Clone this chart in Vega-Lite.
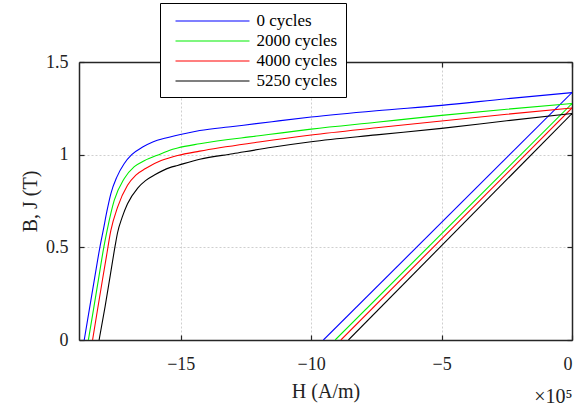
{
  "$schema": "https://vega.github.io/schema/vega-lite/v6.json",
  "width": 493,
  "height": 278,
  "autosize": {"type": "none"},
  "padding": {"left": 79, "top": 62, "right": 13, "bottom": 67},
  "background": "white",
  "title": {"text": "×10⁵", "orient": "bottom", "anchor": "end", "font": "Liberation Serif", "fontSize": 20, "fontWeight": "normal", "color": "#222222", "offset": -14},
  "data": {
    "values": [
      {"series": "0 cycles", "kind": "J", "H": -18.7, "v": 0},
      {"series": "0 cycles", "kind": "J", "H": -18.5, "v": 0.168},
      {"series": "0 cycles", "kind": "J", "H": -18.3, "v": 0.335},
      {"series": "0 cycles", "kind": "J", "H": -18.1, "v": 0.5},
      {"series": "0 cycles", "kind": "J", "H": -17.96, "v": 0.6},
      {"series": "0 cycles", "kind": "J", "H": -17.83, "v": 0.695},
      {"series": "0 cycles", "kind": "J", "H": -17.68, "v": 0.789},
      {"series": "0 cycles", "kind": "J", "H": -17.45, "v": 0.879},
      {"series": "0 cycles", "kind": "J", "H": -17.17, "v": 0.951},
      {"series": "0 cycles", "kind": "J", "H": -16.88, "v": 1.0},
      {"series": "0 cycles", "kind": "J", "H": -16.46, "v": 1.041},
      {"series": "0 cycles", "kind": "J", "H": -16.05, "v": 1.07},
      {"series": "0 cycles", "kind": "J", "H": -15.57, "v": 1.09},
      {"series": "0 cycles", "kind": "J", "H": -14.78, "v": 1.116},
      {"series": "0 cycles", "kind": "J", "H": -14.27, "v": 1.13},
      {"series": "0 cycles", "kind": "J", "H": -13.0, "v": 1.152},
      {"series": "0 cycles", "kind": "J", "H": -11.5, "v": 1.178},
      {"series": "0 cycles", "kind": "J", "H": -10.0, "v": 1.203},
      {"series": "0 cycles", "kind": "J", "H": -7.5, "v": 1.237},
      {"series": "0 cycles", "kind": "J", "H": -5.0, "v": 1.266},
      {"series": "0 cycles", "kind": "J", "H": -2.5, "v": 1.302},
      {"series": "0 cycles", "kind": "J", "H": 0, "v": 1.335},
      {"series": "0 cycles", "kind": "B", "H": -9.53, "v": 0},
      {"series": "0 cycles", "kind": "B", "H": 0, "v": 1.335},

      {"series": "2000 cycles", "kind": "J", "H": -18.54, "v": 0},
      {"series": "2000 cycles", "kind": "J", "H": -18.35, "v": 0.16},
      {"series": "2000 cycles", "kind": "J", "H": -18.15, "v": 0.33},
      {"series": "2000 cycles", "kind": "J", "H": -17.95, "v": 0.5},
      {"series": "2000 cycles", "kind": "J", "H": -17.81, "v": 0.6},
      {"series": "2000 cycles", "kind": "J", "H": -17.55, "v": 0.753},
      {"series": "2000 cycles", "kind": "J", "H": -17.17, "v": 0.87},
      {"series": "2000 cycles", "kind": "J", "H": -16.78, "v": 0.935},
      {"series": "2000 cycles", "kind": "J", "H": -16.4, "v": 0.967},
      {"series": "2000 cycles", "kind": "J", "H": -15.75, "v": 1.005},
      {"series": "2000 cycles", "kind": "J", "H": -15.42, "v": 1.024},
      {"series": "2000 cycles", "kind": "J", "H": -15.12, "v": 1.036},
      {"series": "2000 cycles", "kind": "J", "H": -14.27, "v": 1.059},
      {"series": "2000 cycles", "kind": "J", "H": -12.0, "v": 1.102},
      {"series": "2000 cycles", "kind": "J", "H": -10.0, "v": 1.138},
      {"series": "2000 cycles", "kind": "J", "H": -7.5, "v": 1.175},
      {"series": "2000 cycles", "kind": "J", "H": -5.0, "v": 1.212},
      {"series": "2000 cycles", "kind": "J", "H": -2.5, "v": 1.245},
      {"series": "2000 cycles", "kind": "J", "H": 0, "v": 1.276},
      {"series": "2000 cycles", "kind": "B", "H": -9.08, "v": 0},
      {"series": "2000 cycles", "kind": "B", "H": 0, "v": 1.276},

      {"series": "4000 cycles", "kind": "J", "H": -18.38, "v": 0},
      {"series": "4000 cycles", "kind": "J", "H": -18.2, "v": 0.155},
      {"series": "4000 cycles", "kind": "J", "H": -18.0, "v": 0.325},
      {"series": "4000 cycles", "kind": "J", "H": -17.85, "v": 0.45},
      {"series": "4000 cycles", "kind": "J", "H": -17.68, "v": 0.59},
      {"series": "4000 cycles", "kind": "J", "H": -17.42, "v": 0.717},
      {"series": "4000 cycles", "kind": "J", "H": -17.04, "v": 0.835},
      {"series": "4000 cycles", "kind": "J", "H": -16.72, "v": 0.89},
      {"series": "4000 cycles", "kind": "J", "H": -16.35, "v": 0.925},
      {"series": "4000 cycles", "kind": "J", "H": -15.75, "v": 0.968},
      {"series": "4000 cycles", "kind": "J", "H": -15.42, "v": 0.983},
      {"series": "4000 cycles", "kind": "J", "H": -15.12, "v": 0.995},
      {"series": "4000 cycles", "kind": "J", "H": -14.27, "v": 1.019},
      {"series": "4000 cycles", "kind": "J", "H": -12.0, "v": 1.068},
      {"series": "4000 cycles", "kind": "J", "H": -10.0, "v": 1.106},
      {"series": "4000 cycles", "kind": "J", "H": -7.5, "v": 1.145},
      {"series": "4000 cycles", "kind": "J", "H": -5.0, "v": 1.182},
      {"series": "4000 cycles", "kind": "J", "H": -2.5, "v": 1.218},
      {"series": "4000 cycles", "kind": "J", "H": 0, "v": 1.252},
      {"series": "4000 cycles", "kind": "B", "H": -8.86, "v": 0},
      {"series": "4000 cycles", "kind": "B", "H": 0, "v": 1.252},

      {"series": "5250 cycles", "kind": "J", "H": -18.13, "v": 0},
      {"series": "5250 cycles", "kind": "J", "H": -17.9, "v": 0.18},
      {"series": "5250 cycles", "kind": "J", "H": -17.7, "v": 0.35},
      {"series": "5250 cycles", "kind": "J", "H": -17.5, "v": 0.52},
      {"series": "5250 cycles", "kind": "J", "H": -17.42, "v": 0.58},
      {"series": "5250 cycles", "kind": "J", "H": -17.25, "v": 0.66},
      {"series": "5250 cycles", "kind": "J", "H": -17.04, "v": 0.735},
      {"series": "5250 cycles", "kind": "J", "H": -16.65, "v": 0.82},
      {"series": "5250 cycles", "kind": "J", "H": -16.35, "v": 0.86},
      {"series": "5250 cycles", "kind": "J", "H": -16.01, "v": 0.89},
      {"series": "5250 cycles", "kind": "J", "H": -15.42, "v": 0.93},
      {"series": "5250 cycles", "kind": "J", "H": -15.12, "v": 0.942},
      {"series": "5250 cycles", "kind": "J", "H": -14.27, "v": 0.975},
      {"series": "5250 cycles", "kind": "J", "H": -13.0, "v": 1.005},
      {"series": "5250 cycles", "kind": "J", "H": -11.5, "v": 1.04},
      {"series": "5250 cycles", "kind": "J", "H": -10.0, "v": 1.07},
      {"series": "5250 cycles", "kind": "J", "H": -7.5, "v": 1.107},
      {"series": "5250 cycles", "kind": "J", "H": -5.0, "v": 1.142},
      {"series": "5250 cycles", "kind": "J", "H": -2.5, "v": 1.183},
      {"series": "5250 cycles", "kind": "J", "H": 0, "v": 1.222},
      {"series": "5250 cycles", "kind": "B", "H": -8.57, "v": 0},
      {"series": "5250 cycles", "kind": "B", "H": 0, "v": 1.222}
    ]
  },
  "layer": [
    {
      "mark": {"type": "line", "strokeWidth": 1.1, "interpolate": "monotone", "clip": true},
      "encoding": {
        "x": {
          "field": "H", "type": "quantitative",
          "scale": {"domain": [-18.9, 0], "nice": false, "zero": false},
          "axis": {"orient": "bottom", "values": [-15, -10, -5, 0], "format": "~g", "title": "H (A/m)", "grid": true, "labelPadding": 20, "titlePadding": 8}
        },
        "y": {
          "field": "v", "type": "quantitative",
          "scale": {"domain": [0, 1.5], "nice": false},
          "axis": {"orient": "left", "values": [0, 0.5, 1, 1.5], "format": "~g", "title": "B, J (T)", "grid": true, "labelPadding": 16, "titlePadding": 5}
        },
        "color": {
          "field": "series", "type": "nominal",
          "scale": {"domain": ["0 cycles", "2000 cycles", "4000 cycles", "5250 cycles"], "range": ["#0000ff", "#00ee00", "#ff0000", "#000000"]},
          "legend": {
            "orient": "none", "legendX": 81, "legendY": -59, "title": null,
            "symbolType": "M-4,0H4", "symbolSize": 342, "symbolStrokeWidth": 1.1, "symbolOffset": 34.5,
            "labelFont": "Liberation Serif", "labelFontSize": 17, "labelColor": "#000000", "labelOffset": 34,
            "fillColor": "white", "strokeColor": "black", "padding": 8, "rowPadding": 2
          }
        },
        "detail": {"field": "kind"}
      }
    },
    {
      "mark": {"type": "line", "opacity": 0},
      "encoding": {
        "x": {"field": "H", "type": "quantitative", "axis": {"orient": "top", "values": [-15, -10, -5, 0], "labels": false, "grid": false, "title": null}},
        "y": {"field": "v", "type": "quantitative", "axis": {"orient": "right", "values": [0, 0.5, 1, 1.5], "labels": false, "grid": false, "title": null}},
        "detail": {"field": "series"}
      }
    }
  ],
  "resolve": {"axis": {"x": "independent", "y": "independent"}},
  "config": {
    "view": {"stroke": null},
    "axis": {
      "labelFont": "Liberation Serif", "labelFontSize": 18, "labelColor": "#222222",
      "titleFont": "Liberation Serif", "titleFontSize": 20, "titleFontWeight": "normal", "titleColor": "#222222",
      "domainColor": "#262626", "domainWidth": 1.5, "tickColor": "#262626", "tickWidth": 1.2, "tickSize": -5,
      "gridColor": "#cfcfcf", "gridDash": [2, 2], "gridWidth": 1
    }
  }
}
